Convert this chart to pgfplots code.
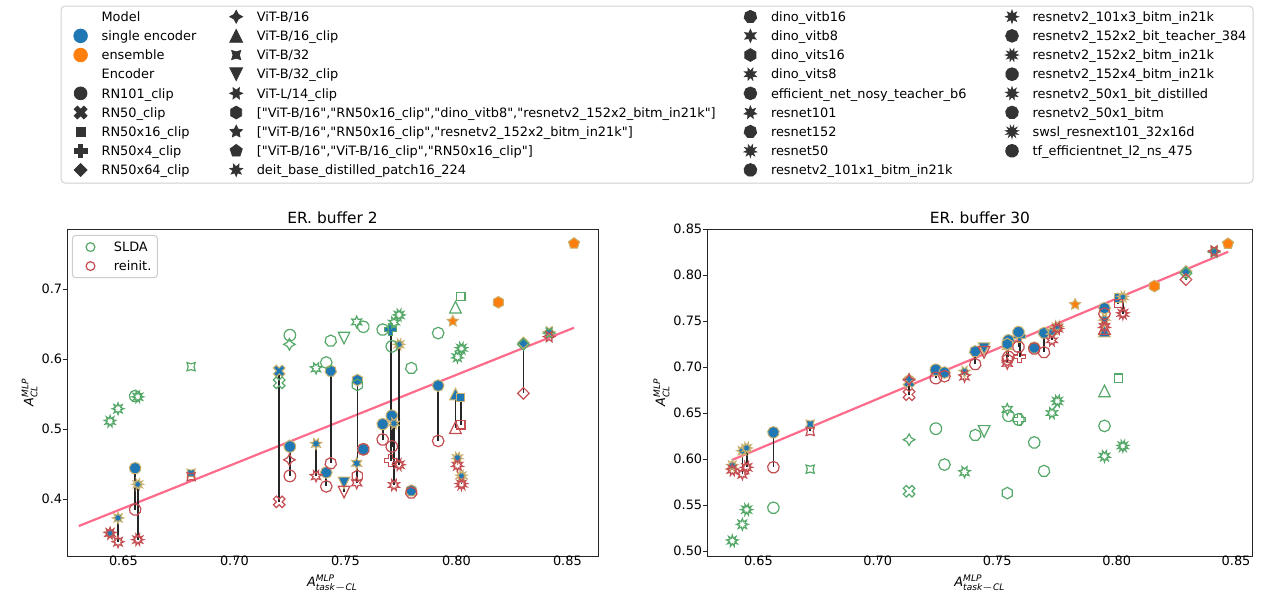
\documentclass[border=0pt]{standalone}
\usepackage{fontspec}
\setmainfont{DejaVu Sans}
\setmonofont{DejaVu Sans}
\usepackage{amsmath}
\usepackage{pgfplots}
\usepackage{pgfplotstable}
\pgfplotsset{compat=1.18}

\definecolor{c0}{HTML}{1F77B4}
\definecolor{c1}{HTML}{FF7F0E}
\definecolor{gold}{RGB}{204,178,110}
\definecolor{sgreen}{HTML}{55A868}
\definecolor{sred}{HTML}{C44E52}
\definecolor{pinkline}{HTML}{FF6B8B}
\definecolor{dk}{HTML}{333333}

\newdimen\mkr
\newcommand\polypath[2]{%
  \pgfmathsetmacro\mkang{90+#2}%
  \pgfpathmoveto{\pgfpointpolar{\mkang}{\pgfplotmarksize}}%
  \pgfplotsforeachungrouped \mki in {1,2,...,#1}{%
    \pgfmathsetmacro\mkang{90+#2+\mki*360/#1}%
    \pgfpathlineto{\pgfpointpolar{\mkang}{\pgfplotmarksize}}}%
  \pgfpathclose}
\newcommand\starpath[2]{%
  \mkr=0.5\pgfplotmarksize\relax
  \pgfmathsetmacro\mkang{90+#2}%
  \pgfpathmoveto{\pgfpointpolar{\mkang}{\pgfplotmarksize}}%
  \pgfplotsforeachungrouped \mki in {1,2,...,#1}{%
    \pgfmathsetmacro\mkang{90+#2+(2*\mki-1)*180/#1}%
    \pgfpathlineto{\pgfpointpolar{\mkang}{\mkr}}%
    \pgfmathsetmacro\mkang{90+#2+\mki*360/#1}%
    \pgfpathlineto{\pgfpointpolar{\mkang}{\pgfplotmarksize}}}%
  \pgfpathclose}
\newcommand\mkp[2]{\pgfqpoint{#1\pgfplotmarksize}{#2\pgfplotmarksize}}
\newcommand\defmk[2]{%
  \pgfdeclareplotmark{#1f}{#2\pgfusepathqfillstroke}%
  \pgfdeclareplotmark{#1o}{#2\pgfusepathqstroke}}

\defmk{c}{\pgfpathcircle{\pgfpointorigin}{\pgfplotmarksize}}
\defmk{X}{\pgfpathmoveto{\mkp{-0.5}{-1}}\pgfpathlineto{\mkp{0}{-0.5}}\pgfpathlineto{\mkp{0.5}{-1}}%
  \pgfpathlineto{\mkp{1}{-0.5}}\pgfpathlineto{\mkp{0.5}{0}}\pgfpathlineto{\mkp{1}{0.5}}%
  \pgfpathlineto{\mkp{0.5}{1}}\pgfpathlineto{\mkp{0}{0.5}}\pgfpathlineto{\mkp{-0.5}{1}}%
  \pgfpathlineto{\mkp{-1}{0.5}}\pgfpathlineto{\mkp{-0.5}{0}}\pgfpathlineto{\mkp{-1}{-0.5}}\pgfpathclose}
\defmk{P}{\pgfpathmoveto{\mkp{-0.3333}{-1}}\pgfpathlineto{\mkp{0.3333}{-1}}\pgfpathlineto{\mkp{0.3333}{-0.3333}}%
  \pgfpathlineto{\mkp{1}{-0.3333}}\pgfpathlineto{\mkp{1}{0.3333}}\pgfpathlineto{\mkp{0.3333}{0.3333}}%
  \pgfpathlineto{\mkp{0.3333}{1}}\pgfpathlineto{\mkp{-0.3333}{1}}\pgfpathlineto{\mkp{-0.3333}{0.3333}}%
  \pgfpathlineto{\mkp{-1}{0.3333}}\pgfpathlineto{\mkp{-1}{-0.3333}}\pgfpathlineto{\mkp{-0.3333}{-0.3333}}\pgfpathclose}
\defmk{T}{\pgfpathmoveto{\mkp{0}{1}}\pgfpathlineto{\mkp{-1}{-1}}\pgfpathlineto{\mkp{1}{-1}}\pgfpathclose}
\defmk{V}{\pgfpathmoveto{\mkp{0}{-1}}\pgfpathlineto{\mkp{-1}{1}}\pgfpathlineto{\mkp{1}{1}}\pgfpathclose}
\defmk{Sq}{\polypath{4}{45}}
\defmk{D}{\polypath{4}{0}}
\defmk{Q4}{\starpath{4}{0}}
\defmk{Q4r}{\starpath{4}{45}}
\defmk{S6}{\starpath{6}{30}}
\defmk{H6}{\polypath{6}{0}}
\defmk{S5}{\starpath{5}{0}}
\defmk{G5}{\polypath{5}{0}}
\defmk{S7a}{\starpath{7}{25.714}}
\defmk{G7}{\polypath{7}{0}}
\defmk{S6b}{\starpath{6}{0}}
\defmk{S8a}{\starpath{8}{22.5}}
\defmk{G8}{\polypath{8}{0}}
\defmk{S7}{\starpath{7}{0}}
\defmk{S9a}{\starpath{9}{20}}
\defmk{G9}{\polypath{9}{0}}
\defmk{S8}{\starpath{8}{0}}
\defmk{S10a}{\starpath{10}{18}}
\defmk{G10}{\polypath{10}{0}}
\defmk{S9}{\starpath{9}{0}}
\defmk{S11a}{\starpath{11}{16.364}}
\defmk{G11}{\polypath{11}{0}}

\newcommand\dq{{\ttfamily"}}
\newcommand\lfont{\fontsize{6.45}{7.7}\selectfont}

\tikzset{
  bmk/.style={draw=gold, fill=c0, line width=0.5pt},
  omk/.style={draw=gold, fill=c1, line width=0.5pt},
  gmk/.style={draw=sgreen, line width=0.6pt},
  rmk/.style={draw=sred, line width=0.6pt},
  lk/.style={mark size=3.2pt, line width=0.4pt, draw=dk, fill=dk, mark options={draw=dk, fill=dk}},
}
\pgfplotsset{
  mkset/.style 2 args={scatter/classes={
    c={mark=c#1,#2},X={mark=X#1,#2},Sq={mark=Sq#1,#2},P={mark=P#1,#2},D={mark=D#1,#2},
    Q4={mark=Q4#1,#2},T={mark=T#1,#2},Q4r={mark=Q4r#1,#2},V={mark=V#1,#2},S6={mark=S6#1,#2},
    H6={mark=H6#1,#2},S5={mark=S5#1,#2},G5={mark=G5#1,#2},S7a={mark=S7a#1,#2},G7={mark=G7#1,#2},
    S6b={mark=S6b#1,#2},S8a={mark=S8a#1,#2},G8={mark=G8#1,#2},S7={mark=S7#1,#2},S9a={mark=S9a#1,#2},
    G9={mark=G9#1,#2},S8={mark=S8#1,#2},S10a={mark=S10a#1,#2},G10={mark=G10#1,#2},S9={mark=S9#1,#2},
    S11a={mark=S11a#1,#2},G11={mark=G11#1,#2}}},
  sc/.style 2 args={scatter, only marks, scatter src=explicit symbolic, mkset={#1}{#2}, mark size=2.9pt, forget plot},
  lgaxis/.style={hide axis, scale only axis, width=1pt, height=1pt, xmin=0, xmax=1, ymin=0, ymax=1,
    anchor=north west, legend cell align=left,
    legend style={at={(0,1)}, anchor=north west, draw=none, fill=none, inner sep=0pt, outer sep=0pt,
      row sep=2.58pt, column sep=7.1pt, font=\lfont,
      nodes={inner sep=0pt, text height=5.9pt, text depth=1.1pt}},
    legend image code/.code={\draw[##1] plot coordinates {(0pt,0pt)};}},
  base/.style={scale only axis, anchor=north west,
    axis line style={black!85, line width=0.5pt},
    tick style={black!85, line width=0.5pt},
    major tick length=2.2pt, tick align=outside, tick pos=left,
    tick label style={font=\lfont},
    xticklabel style={inner sep=0pt, yshift=2.5pt},
    yticklabel style={inner sep=0pt},
    label style={font=\lfont},
    xlabel style={yshift=-1pt},
    ylabel style={yshift=-1.5pt},
    title style={font=\fontsize{7.7}{9.2}\selectfont, at={(0.5,1)}, anchor=base, yshift=-3.1pt},
    xtick={0.65,0.7,0.75,0.8,0.85},
    xticklabel={\pgfmathprintnumber[fixed,fixed zerofill,precision=2,assume math mode=true]{\tick}},
    xlabel={$\textit{A}^{\textit{MLP}}_{\textit{task}-\textit{CL}}$},
    ylabel={$\textit{A}^{\textit{MLP}}_{\textit{CL}}$}},
  bars/.style={forget plot, draw=none, mark=none,
    error bars/.cd, y dir=minus, y explicit, error mark=none,
    error bar style={draw=black!85, line width=0.85pt}},
}

\pgfplotstableread{
x b r g m
0.6440 0.351 0.351 0.511 S9
0.6476 0.373 0.339 0.529 S8
0.6553 0.444 0.385 0.547 G9
0.6565 0.421 0.342 0.546 S10a
0.6805 0.437 0.432 0.589 Q4r
0.7202 0.583 0.396 0.566 X
0.7248 0.476 0.456 0.621 Q4
0.7250 0.475 0.433 0.634 c
0.7368 0.479 0.433 0.587 S7a
0.7414 0.438 0.418 0.595 G8
0.7434 0.583 0.451 0.626 G7
0.7494 0.423 0.410 0.630 V
0.7554 0.570 0.433 0.563 H6
0.7551 0.451 0.423 0.653 S6b
0.7581 0.471 0.471 0.646 G10
0.7668 0.507 0.485 0.642 G9
0.7709 0.519 0.475 0.618 G11
0.7704 0.642 0.455 0.642 P
0.7719 0.508 0.420 0.652 S8a
0.7742 0.621 0.449 0.663 S10a
0.7797 0.412 0.409 0.587 G7
0.7918 0.562 0.483 0.637 G8
0.7996 0.550 0.502 0.674 T
0.8020 0.545 0.506 0.689 Sq
0.8005 0.459 0.448 0.603 S9a
0.8023 0.433 0.421 0.615 S11a
0.8302 0.623 0.551 0.621 D
0.8418 0.639 0.632 0.637 S6
}\tabA
\pgfplotstableread{
x y m
0.8530 0.765 G5
0.8189 0.681 H6
0.7984 0.654 S5
}\ensA
\pgfplotstableread{
x b r g m
0.6391 0.593 0.588 0.511 S9
0.6433 0.609 0.584 0.529 S8
0.6451 0.612 0.591 0.545 S10a
0.6563 0.629 0.591 0.547 G9
0.6717 0.638 0.630 0.589 Q4r
0.7131 0.684 0.670 0.565 X
0.7131 0.687 0.686 0.621 Q4
0.7243 0.697 0.688 0.633 c
0.7279 0.694 0.690 0.594 G8
0.7363 0.695 0.690 0.586 S7a
0.7408 0.717 0.703 0.626 G7
0.7445 0.720 0.716 0.630 V
0.7547 0.729 0.711 0.647 G11
0.7542 0.722 0.704 0.654 S6b
0.7542 0.725 0.708 0.563 H6
0.7594 0.733 0.711 0.643 P
0.7589 0.738 0.722 0.643 G10
0.7655 0.721 0.720 0.618 G9
0.7696 0.737 0.716 0.587 G7
0.7729 0.738 0.729 0.650 S8a
0.7752 0.744 0.742 0.663 S10a
0.7949 0.764 0.758 0.636 G8
0.7949 0.752 0.744 0.603 S9a
0.7949 0.739 0.742 0.674 T
0.8007 0.775 0.769 0.688 Sq
0.8026 0.776 0.758 0.614 S11a
0.8290 0.804 0.795 0.802 D
0.8408 0.826 0.826 0.825 S6
}\tabB
\pgfplotstableread{
x y m
0.8466 0.834 G5
0.8158 0.788 H6
0.7826 0.768 S5
}\ensB

\begin{document}
\begin{tikzpicture}
\useasboundingbox (0pt,0pt) rectangle (631pt,-298pt);
\draw[black!18, fill=white, line width=0.5pt, rounded corners=2pt] (30.5pt,-3pt) rectangle (626.5pt,-91.5pt);

\begin{axis}[lgaxis, at={(36.9pt,-4.85pt)}]
\addlegendimage{empty legend}\addlegendentry{Model}
\addlegendimage{mark=cf, mark size=3.4pt, draw=c0, fill=c0, mark options={draw=c0, fill=c0}}\addlegendentry{single encoder}
\addlegendimage{mark=cf, mark size=3.4pt, draw=c1, fill=c1, mark options={draw=c1, fill=c1}}\addlegendentry{ensemble}
\addlegendimage{empty legend}\addlegendentry{Encoder}
\addlegendimage{lk, mark=cf}\addlegendentry{RN101\_clip}
\addlegendimage{lk, mark=Xf}\addlegendentry{RN50\_clip}
\addlegendimage{lk, mark=Sqf}\addlegendentry{RN50x16\_clip}
\addlegendimage{lk, mark=Pf}\addlegendentry{RN50x4\_clip}
\addlegendimage{lk, mark=Df}\addlegendentry{RN50x64\_clip}
\end{axis}
\begin{axis}[lgaxis, at={(114.9pt,-4.85pt)}]
\addlegendimage{lk, mark=Q4f}\addlegendentry{ViT-B/16}
\addlegendimage{lk, mark=Tf}\addlegendentry{ViT-B/16\_clip}
\addlegendimage{lk, mark=Q4rf}\addlegendentry{ViT-B/32}
\addlegendimage{lk, mark=Vf}\addlegendentry{ViT-B/32\_clip}
\addlegendimage{lk, mark=S6f}\addlegendentry{ViT-L/14\_clip}
\addlegendimage{lk, mark=H6f}\addlegendentry{[\dq ViT-B/16\dq,\dq RN50x16\_clip\dq,\dq dino\_vitb8\dq,\dq resnetv2\_152x2\_bitm\_in21k\dq]}
\addlegendimage{lk, mark=S5f}\addlegendentry{[\dq ViT-B/16\dq,\dq RN50x16\_clip\dq,\dq resnetv2\_152x2\_bitm\_in21k\dq]}
\addlegendimage{lk, mark=G5f}\addlegendentry{[\dq ViT-B/16\dq,\dq ViT-B/16\_clip\dq,\dq RN50x16\_clip\dq]}
\addlegendimage{lk, mark=S7af}\addlegendentry{deit\_base\_distilled\_patch16\_224}
\end{axis}
\begin{axis}[lgaxis, at={(372pt,-4.85pt)}]
\addlegendimage{lk, mark=G7f}\addlegendentry{dino\_vitb16}
\addlegendimage{lk, mark=S6bf}\addlegendentry{dino\_vitb8}
\addlegendimage{lk, mark=H6f}\addlegendentry{dino\_vits16}
\addlegendimage{lk, mark=S8af}\addlegendentry{dino\_vits8}
\addlegendimage{lk, mark=G8f}\addlegendentry{efficient\_net\_nosy\_teacher\_b6}
\addlegendimage{lk, mark=S7f}\addlegendentry{resnet101}
\addlegendimage{lk, mark=G7f}\addlegendentry{resnet152}
\addlegendimage{lk, mark=S9af}\addlegendentry{resnet50}
\addlegendimage{lk, mark=G9f}\addlegendentry{resnetv2\_101x1\_bitm\_in21k}
\end{axis}
\begin{axis}[lgaxis, at={(502.8pt,-4.85pt)}]
\addlegendimage{lk, mark=S8f}\addlegendentry{resnetv2\_101x3\_bitm\_in21k}
\addlegendimage{lk, mark=G8f}\addlegendentry{resnetv2\_152x2\_bit\_teacher\_384}
\addlegendimage{lk, mark=S10af}\addlegendentry{resnetv2\_152x2\_bitm\_in21k}
\addlegendimage{lk, mark=G10f}\addlegendentry{resnetv2\_152x4\_bitm\_in21k}
\addlegendimage{lk, mark=S9f}\addlegendentry{resnetv2\_50x1\_bit\_distilled}
\addlegendimage{lk, mark=G9f}\addlegendentry{resnetv2\_50x1\_bitm}
\addlegendimage{lk, mark=S11af}\addlegendentry{swsl\_resnext101\_32x16d}
\addlegendimage{lk, mark=G11f}\addlegendentry{tf\_efficientnet\_l2\_ns\_475}
\end{axis}

\begin{axis}[base, at={(33.5pt,-114.5pt)}, width=265.5pt, height=163.5pt,
  xmin=0.6246, xmax=0.8638, ymin=0.3186, ymax=0.7857,
  ytick={0.4,0.5,0.6,0.7},
  yticklabel={\pgfmathprintnumber[fixed,fixed zerofill,precision=1,assume math mode=true]{\tick}},
  title={ER. buffer 2},
  legend cell align=left,
  legend style={at={(0.0094,0.9817)}, anchor=north west, draw=black!20, fill=white, rounded corners=1.5pt,
    line width=0.5pt, inner xsep=3pt, inner ysep=2.3pt, row sep=2.5pt, column sep=9.5pt, font=\lfont,
    nodes={inner sep=0pt, text height=5.9pt, text depth=1.1pt}},
  legend image code/.code={\pgfpathrectangle{\pgfqpoint{-6pt}{-0.5pt}}{\pgfqpoint{6pt}{1pt}}\pgfusepath{discard}\draw[#1] plot coordinates {(0pt,0pt)};}]
\addplot[sc={f}{bmk}] table[x=x, y=b, meta=m] {\tabA};
\addplot[sc={f}{omk}] table[x=x, y=y, meta=m] {\ensA};
\addplot[sc={o}{gmk}] table[x=x, y=g, meta=m] {\tabA};
\addplot[sc={o}{rmk}] table[x=x, y=r, meta=m] {\tabA};
\addplot[forget plot, pinkline, line width=1.1pt] coordinates {(0.6299,0.3614) (0.853,0.6447)};
\addplot[bars] table[x=x, y=b, y error minus expr=\thisrow{b}-\thisrow{r}] {\tabA};
\addlegendimage{mark=co, mark size=2.2pt, line width=0.6pt, draw=sgreen, mark options={draw=sgreen}}
\addlegendentry{SLDA}
\addlegendimage{mark=co, mark size=2.2pt, line width=0.6pt, draw=sred, mark options={draw=sred}}
\addlegendentry{reinit.}
\end{axis}

\begin{axis}[base, at={(353.5pt,-114.5pt)}, width=272.9pt, height=163.5pt,
  xmin=0.6285, xmax=0.8570, ymin=0.4946, ymax=0.8500,
  ytick={0.5,0.55,0.6,0.65,0.7,0.75,0.8,0.85},
  yticklabel={\pgfmathprintnumber[fixed,fixed zerofill,precision=2,assume math mode=true]{\tick}},
  title={ER. buffer 30}]
\addplot[sc={f}{bmk}] table[x=x, y=b, meta=m] {\tabB};
\addplot[sc={f}{omk}] table[x=x, y=y, meta=m] {\ensB};
\addplot[sc={o}{gmk}] table[x=x, y=g, meta=m] {\tabB};
\addplot[sc={o}{rmk}] table[x=x, y=r, meta=m] {\tabB};
\addplot[forget plot, pinkline, line width=1.1pt] coordinates {(0.6389,0.5989) (0.8467,0.8253)};
\addplot[bars] table[x=x, y=b, y error minus expr=\thisrow{b}-\thisrow{r}] {\tabB};
\end{axis}
\end{tikzpicture}
\end{document}
